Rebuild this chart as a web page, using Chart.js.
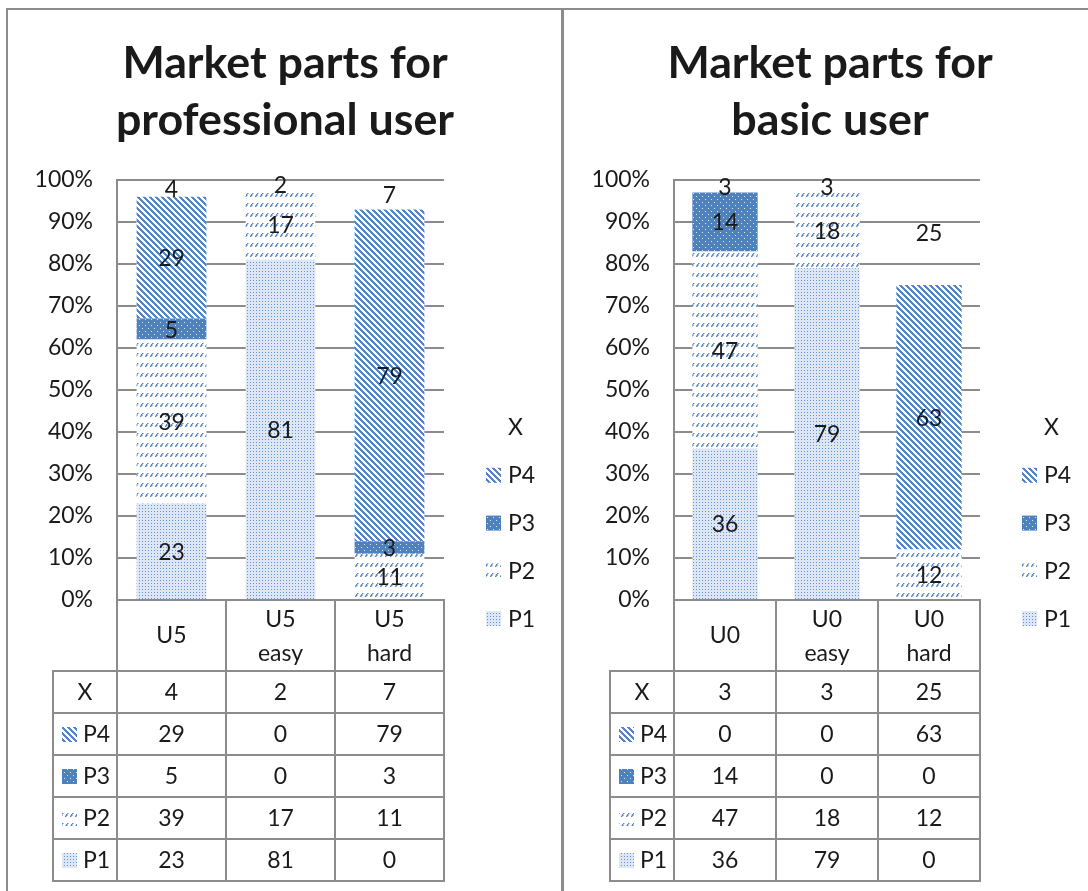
<!DOCTYPE html>
<html>
<head>
<meta charset="utf-8">
<script src="https://cdn.jsdelivr.net/npm/chart.js@4.4.1/dist/chart.umd.min.js"></script>
<style>
body{margin:0;background:#fff;width:1088px;height:891px;overflow:hidden;position:relative;}
canvas{position:absolute;top:0;}
#proChart{left:0;}
#basicChart{left:566px;}
.line{position:absolute;background:#8c8c8c;z-index:2;}
</style>
</head>
<body>
<canvas id="proChart" width="560" height="891" style="width:560px;height:891px"></canvas>
<canvas id="basicChart" width="522" height="891" style="width:522px;height:891px"></canvas>
<div class="line" style="left:6px;top:8px;width:1082px;height:2px"></div>
<div class="line" style="left:6px;top:8px;width:2px;height:883px"></div>
<div class="line" style="left:561px;top:8px;width:3px;height:883px"></div>
<script>
// data (percent of users)
let proCats=['U5','U5 easy','U5 hard'];
let proP1=[23,81,0];
let proP2=[39,17,11];
let proP3=[5,0,3];
let proP4=[29,0,79];
let proX=[4,2,7];

let basicCats=['U0','U0 easy','U0 hard'];
let basicP1=[36,79,0];
let basicP2=[47,18,12];
let basicP3=[14,0,0];
let basicP4=[0,0,63];
let basicX=[3,3,25];

let yTickStep=10;

let blue='#4f81bd';
let font='Lato, "Open Sans", sans-serif';
let fsize=23;
let txt='#1a1a1a';
let gray='#8c8c8c';

// fill patterns like the excel ones
function tile(w,h,draw){
    let c=document.createElement('canvas');
    c.width=w;c.height=h;
    let g=c.getContext('2d');
    draw(g);
    return g.createPattern(c,'repeat');
}
let patP1=tile(3,3,function(g){
    g.fillStyle='#dde6f4';g.fillRect(0,0,3,3);
    g.fillStyle='#6893ce';g.fillRect(1,1,1,1);
});
let patP2=tile(5,10,function(g){
    g.fillStyle='#fff';g.fillRect(0,0,5,10);
    g.fillStyle='#5a88ca';
    g.fillRect(0,6,1,1);g.fillRect(1,5,1,1);g.fillRect(1,4,1,1);g.fillRect(2,3,1,1);
    g.fillStyle='#a9c1e6';
    g.fillRect(1,6,1,1);g.fillRect(2,4,1,1);g.fillRect(2,5,1,1);g.fillRect(3,3,1,1);g.fillRect(0,5,1,1);
});
let patP3=tile(6,6,function(g){
    g.fillStyle=blue;g.fillRect(0,0,6,6);
    g.fillStyle='#dce6f4';
    g.fillRect(1,1,1,1);g.fillRect(4,4,1,1);
});
let patP4=tile(6,6,function(g){
    for(let x=0;x<6;x++){
        for(let y=0;y<6;y++){
            let d=((x-y)%6+6)%6;
            g.fillStyle=d<3?'#5585c6':'#ffffff';
            g.fillRect(x,y,1,1);
        }
    }
});

let panelPlugin={
    id:'panel',
    afterDatasetsDraw(chart){
        let ctx=chart.ctx;
        ctx.save();
        ctx.font=fsize+'px '+font;
        ctx.fillStyle=txt;
        ctx.textAlign='center';
        ctx.textBaseline='middle';
        chart.data.datasets.forEach(function(ds,di){
            let meta=chart.getDatasetMeta(di);
            meta.data.forEach(function(el,i){
                let v=ds.data[i];
                if(!v) return;
                ctx.fillText(v,el.x,(el.y+el.base)/2+1);
            });
        });
        ctx.restore();
    },
    afterDraw(chart){
        let ctx=chart.ctx;
        let ca=chart.chartArea;
        let opt=chart.options.plugins.panel;
        ctx.save();

        // title
        ctx.fillStyle=txt;
        ctx.textAlign='center';
        ctx.textBaseline='alphabetic';
        ctx.font='bold 44px '+font;
        let w=ctx.measureText(opt.title[0]).width;
        let size=44*325/w;
        ctx.font='bold '+size.toFixed(1)+'px '+font;
        ctx.fillText(opt.title[0],opt.titleX,78);
        ctx.fillText(opt.title[1],opt.titleX,135);

        let rows=chart.data.datasets.slice().reverse();

        // legend
        ctx.font=fsize+'px '+font;
        ctx.textAlign='left';
        ctx.textBaseline='middle';
        rows.forEach(function(ds,k){
            let y=427+k*47.8;
            if(ds.label!='X'){
                ctx.fillStyle=ds.backgroundColor;
                ctx.fillRect(ca.right+42,y-7,15,15);
            }
            ctx.fillStyle=txt;
            ctx.fillText(ds.label,ca.right+64,y+1);
        });

        // data table
        let n=chart.data.labels.length;
        let colW=ca.width/n;
        let top=ca.bottom;
        let headH=71, rowH=42, firstW=64;
        ctx.strokeStyle=gray;
        ctx.lineWidth=2;
        ctx.textAlign='center';
        for(let i=0;i<n;i++){
            let x0=ca.left+i*colW;
            ctx.strokeRect(x0,top,colW,headH);
            let parts=chart.data.labels[i].split(' ');
            ctx.fillStyle=txt;
            if(parts.length==1){
                ctx.fillText(parts[0],x0+colW/2,top+36);
            }else{
                ctx.fillText(parts[0],x0+colW/2,top+20);
                ctx.fillText(parts[1],x0+colW/2,top+54);
            }
        }
        rows.forEach(function(ds,r){
            let y0=top+headH+r*rowH;
            let yc=y0+rowH/2+1;
            let lx=ca.left-firstW;
            ctx.strokeRect(lx,y0,firstW,rowH);
            if(ds.label=='X'){
                ctx.textAlign='center';
                ctx.fillStyle=txt;
                ctx.fillText(ds.label,lx+firstW/2,yc);
            }else{
                ctx.fillStyle=ds.backgroundColor;
                ctx.fillRect(lx+9,yc-8,15,15);
                ctx.textAlign='left';
                ctx.fillStyle=txt;
                ctx.fillText(ds.label,lx+30,yc);
            }
            ctx.textAlign='center';
            for(let i=0;i<n;i++){
                let x0=ca.left+i*colW;
                ctx.strokeRect(x0,y0,colW,rowH);
                ctx.fillStyle=txt;
                ctx.fillText(ds.data[i],chart.scales.x.getPixelForValue(i),yc);
            }
        });
        ctx.restore();
    }
};

function makeChart(id,cats,p1,p2,p3,p4,px,title,titleX,padLeft,padRight){
    return new Chart(id,{
        type:'bar',
        data:{
            labels:cats,
            datasets:[
                {label:'P1',data:p1,backgroundColor:patP1},
                {label:'P2',data:p2,backgroundColor:patP2},
                {label:'P3',data:p3,backgroundColor:patP3},
                {label:'P4',data:p4,backgroundColor:patP4},
                {label:'X',data:px,backgroundColor:'rgba(0,0,0,0)'}
            ]
        },
        options:{
            responsive:false,
            animation:false,
            datasets:{bar:{barPercentage:0.64,categoryPercentage:1,borderWidth:0}},
            layout:{padding:{left:padLeft,right:padRight,top:180,bottom:291}},
            plugins:{
                legend:{display:false},
                title:{display:false},
                tooltip:{enabled:false},
                panel:{title:title,titleX:titleX}
            },
            scales:{
                x:{display:false,stacked:true},
                y:{
                    stacked:true,min:0,max:100,
                    afterFit:function(s){s.width=100;},
                    ticks:{stepSize:yTickStep,padding:24,color:txt,font:{family:font,size:fsize},
                        callback:function(v){return v+'%';}},
                    grid:{color:gray,lineWidth:2,drawTicks:false},
                    border:{color:gray,width:2}
                }
            }
        },
        plugins:[panelPlugin]
    });
}

makeChart('proChart',proCats,proP1,proP2,proP3,proP4,proX,['Market parts for','professional user'],285,17,116);
makeChart('basicChart',basicCats,basicP1,basicP2,basicP3,basicP4,basicX,['Market parts for','basic user'],264,8,108);
</script>
</body>
</html>
